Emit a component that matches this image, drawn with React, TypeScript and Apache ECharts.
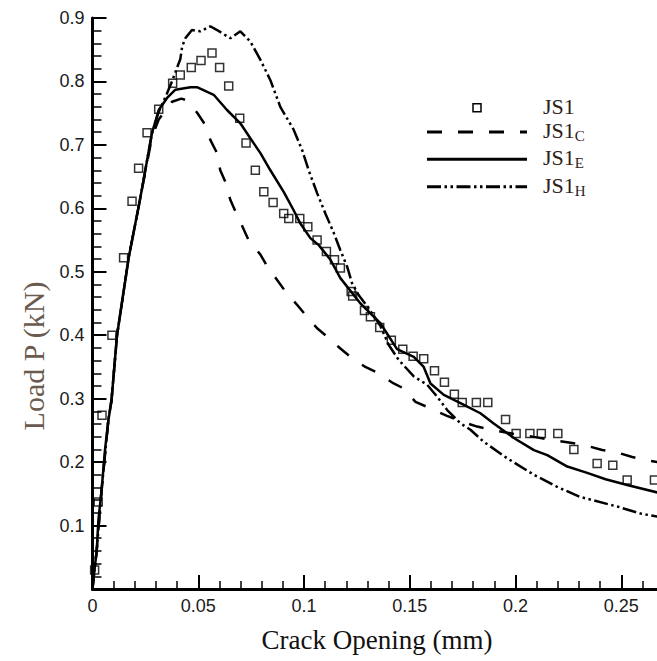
import React, { useEffect, useRef } from "react";
import * as echarts from "echarts";

// Experimental points JS1 [crack opening (mm), load (kN)]
const js1Points: [number, number][] = [
  [0.001, 0.03], [0.0027, 0.137], [0.0045, 0.274], [0.0092, 0.4], [0.0147, 0.522],
  [0.0187, 0.611], [0.0218, 0.663], [0.0258, 0.719], [0.0313, 0.756], [0.0379, 0.797],
  [0.0415, 0.81], [0.0467, 0.822], [0.0513, 0.833], [0.0565, 0.845], [0.0601, 0.822],
  [0.0644, 0.793], [0.0696, 0.742], [0.0726, 0.703], [0.077, 0.66], [0.081, 0.626],
  [0.0854, 0.609], [0.0904, 0.592], [0.0928, 0.584], [0.098, 0.584], [0.1018, 0.571],
  [0.1062, 0.55], [0.1106, 0.532], [0.1144, 0.519], [0.1172, 0.506], [0.1223, 0.469],
  [0.123, 0.462], [0.1286, 0.439], [0.1314, 0.429], [0.1358, 0.412], [0.1413, 0.392],
  [0.1467, 0.378], [0.1516, 0.367], [0.1566, 0.363], [0.1617, 0.344], [0.1664, 0.326],
  [0.1711, 0.307], [0.1748, 0.294], [0.1815, 0.294], [0.1869, 0.294], [0.1953, 0.267],
  [0.2003, 0.245], [0.2068, 0.245], [0.2122, 0.245], [0.22, 0.245], [0.2276, 0.22],
  [0.2386, 0.198], [0.246, 0.195], [0.2528, 0.172], [0.2657, 0.172],
];

// JS1_C (dashed)
const js1cPoints: [number, number][] = [
  [0, 0], [0.0004, 0.014], [0.002, 0.061], [0.0043, 0.156], [0.0075, 0.266], [0.009, 0.298],
  [0.0116, 0.4], [0.0171, 0.522], [0.0223, 0.611], [0.0281, 0.712], [0.0313, 0.74],
  [0.0376, 0.768], [0.042, 0.773], [0.0447, 0.77], [0.0494, 0.751], [0.0534, 0.731],
  [0.0557, 0.708], [0.0589, 0.687], [0.0604, 0.66], [0.0628, 0.642], [0.0652, 0.613],
  [0.0676, 0.595], [0.0712, 0.569], [0.0738, 0.55], [0.0794, 0.527], [0.0822, 0.511],
  [0.0873, 0.487], [0.0912, 0.469], [0.0967, 0.448], [0.1007, 0.432], [0.1062, 0.411],
  [0.1109, 0.398], [0.1172, 0.379], [0.1219, 0.366], [0.129, 0.35], [0.1346, 0.341],
  [0.1424, 0.324], [0.1472, 0.316], [0.1527, 0.295], [0.1582, 0.287], [0.1676, 0.273],
  [0.1771, 0.261], [0.1819, 0.256], [0.19, 0.25], [0.2, 0.244], [0.21, 0.239],
  [0.2268, 0.23], [0.2323, 0.227], [0.241, 0.219], [0.2473, 0.216], [0.2552, 0.208],
  [0.2615, 0.203], [0.2672, 0.2],
];

// JS1_E (solid)
const js1ePoints: [number, number][] = [
  [0, 0], [0.0004, 0.014], [0.002, 0.061], [0.0028, 0.109], [0.0043, 0.156], [0.0059, 0.219],
  [0.0075, 0.266], [0.009, 0.298], [0.0116, 0.4], [0.0171, 0.522], [0.0223, 0.611],
  [0.0281, 0.718], [0.0313, 0.755], [0.0355, 0.775], [0.0392, 0.787], [0.0463, 0.791],
  [0.0494, 0.791], [0.0573, 0.779], [0.0636, 0.755], [0.0699, 0.734], [0.0747, 0.71],
  [0.0794, 0.687], [0.0841, 0.66], [0.0904, 0.626], [0.0951, 0.597], [0.0983, 0.576],
  [0.103, 0.553], [0.107, 0.542], [0.1125, 0.519], [0.1172, 0.49], [0.1267, 0.45],
  [0.1361, 0.419], [0.144, 0.378], [0.1519, 0.366], [0.1566, 0.35], [0.1598, 0.324],
  [0.1661, 0.306], [0.174, 0.293], [0.1834, 0.277], [0.1897, 0.261], [0.1992, 0.238],
  [0.2087, 0.219], [0.215, 0.211], [0.2245, 0.193], [0.2339, 0.183], [0.2426, 0.173],
  [0.2528, 0.164], [0.2672, 0.152],
];

// JS1_H (dash-dot-dot)
const js1hPoints: [number, number][] = [
  [0, 0], [0.0004, 0.014], [0.002, 0.061], [0.0043, 0.156], [0.0075, 0.266], [0.009, 0.298],
  [0.0116, 0.4], [0.0171, 0.522], [0.0223, 0.611], [0.0281, 0.718], [0.0313, 0.752],
  [0.0352, 0.781], [0.0376, 0.8], [0.04, 0.822], [0.0415, 0.835], [0.0424, 0.855],
  [0.0439, 0.868], [0.047, 0.881], [0.051, 0.879], [0.0557, 0.887], [0.0589, 0.881],
  [0.0652, 0.868], [0.0699, 0.879], [0.0746, 0.863], [0.0794, 0.834], [0.0841, 0.802],
  [0.0888, 0.76], [0.0951, 0.724], [0.0991, 0.692], [0.1022, 0.66], [0.1062, 0.624],
  [0.1101, 0.592], [0.1141, 0.561], [0.1172, 0.534], [0.1204, 0.508], [0.1227, 0.482],
  [0.1259, 0.463], [0.13, 0.445], [0.1361, 0.415], [0.14, 0.385], [0.1448, 0.361],
  [0.1519, 0.335], [0.1582, 0.322], [0.163, 0.303], [0.1677, 0.282], [0.174, 0.261],
  [0.1787, 0.251], [0.185, 0.232], [0.1961, 0.206], [0.2087, 0.18], [0.2197, 0.161],
  [0.2307, 0.145], [0.2481, 0.13], [0.2591, 0.119], [0.2672, 0.114],
];

const seriesNames = ["JS1", "JS1_C", "JS1_E", "JS1_H"];
const xAxisTitle = "Crack Opening (mm)";
const yAxisTitle = "Load P (kN)";
const X_MIN = 0;
const X_MAX = 0.3;
const X_INTERVAL = 0.05;
const Y_MIN = 0;
const Y_MAX = 0.9;
const Y_INTERVAL = 0.1;

const SERIF = "'Liberation Serif', 'Times New Roman', serif";
const SANS = "'Liberation Sans', Arial, sans-serif";
const LEGEND_TEXT = "#2e2218";

const DASH_C = [15, 16];
const DASH_H = [14, 3.5, 2.5, 3.5, 2.5, 3.5];

// The chart canvas is wider than the visible window; the plot is cropped at the right edge
const VIEW_W = 657;
const VIEW_H = 661;
const CANVAS_W = 727;

function legendLabel(name: string): string {
  const parts = name.split("_");
  return parts.length > 1 ? `{m|${parts[0]}}{s|${parts[1]}}` : `{m|${parts[0]}}`;
}

export default function App() {
  const ref = useRef<HTMLDivElement>(null);

  useEffect(() => {
    if (!ref.current) return;
    const chart = echarts.init(ref.current, null, { renderer: "svg" });

    const rich = {
      m: { fontFamily: SERIF, fontSize: 22, lineHeight: 26, fill: LEGEND_TEXT },
      s: { fontFamily: SERIF, fontSize: 15, lineHeight: 10, verticalAlign: "bottom", fill: LEGEND_TEXT },
    };

    const rowsY = [107.7, 132, 159.3, 186.7];
    const legendGraphics: any[] = [];
    legendGraphics.push({
      type: "rect",
      shape: { x: 473, y: rowsY[0] - 4, width: 8, height: 8 },
      style: { fill: "none", stroke: "#000", lineWidth: 1.5 },
    });
    legendGraphics.push({
      type: "line",
      shape: { x1: 427, y1: rowsY[1], x2: 527, y2: rowsY[1] },
      style: { stroke: "#000", lineWidth: 3, lineDash: DASH_C },
    });
    legendGraphics.push({
      type: "line",
      shape: { x1: 427, y1: rowsY[2], x2: 527, y2: rowsY[2] },
      style: { stroke: "#000", lineWidth: 3 },
    });
    legendGraphics.push({
      type: "line",
      shape: { x1: 427, y1: rowsY[3], x2: 527, y2: rowsY[3] },
      style: { stroke: "#000", lineWidth: 3, lineDash: DASH_H },
    });
    seriesNames.forEach((n, i) => {
      legendGraphics.push({
        type: "text",
        x: 543,
        y: rowsY[i] - 1.5,
        style: {
          text: legendLabel(n),
          rich,
          align: "left",
          verticalAlign: "middle",
          fill: LEGEND_TEXT,
        },
      });
    });

    const option: any = {
      animation: false,
      backgroundColor: "#fff",
      grid: { left: 92.5, right: 0, top: 18, bottom: 72, containLabel: false },
      xAxis: {
        type: "value",
        min: X_MIN,
        max: X_MAX,
        interval: X_INTERVAL,
        axisLine: { onZero: false, lineStyle: { color: "#000", width: 3 } },
        axisTick: { inside: true, length: 14, lineStyle: { color: "#000", width: 2 } },
        minorTick: { show: true, splitNumber: 5, length: 8, lineStyle: { color: "#000", width: 1.5 } },
        splitLine: { show: false },
        axisLabel: {
          fontFamily: SANS,
          fontSize: 18,
          color: "#1a1a1a",
          margin: 8,
          showMaxLabel: false,
        },
      },
      yAxis: {
        type: "value",
        min: Y_MIN,
        max: Y_MAX,
        interval: Y_INTERVAL,
        axisLine: { onZero: false, lineStyle: { color: "#000", width: 3 } },
        axisTick: { inside: true, length: 14, lineStyle: { color: "#000", width: 2 } },
        minorTick: { show: true, splitNumber: 5, length: 9, lineStyle: { color: "#000", width: 1.5 } },
        splitLine: { show: false },
        axisLabel: {
          fontFamily: SANS,
          fontSize: 18,
          color: "#1a1a1a",
          margin: 8,
          showMinLabel: false,
        },
      },
      graphic: [
        {
          type: "text",
          x: 377,
          y: 640,
          style: {
            text: xAxisTitle,
            fontFamily: SERIF,
            fontSize: 27,
            fill: "#111",
            align: "center",
            verticalAlign: "middle",
          },
        },
        {
          type: "text",
          x: 33,
          y: 356,
          rotation: Math.PI / 2,
          style: {
            text: yAxisTitle,
            fontFamily: SERIF,
            fontSize: 30,
            fill: "#6b5a4e",
            align: "center",
            verticalAlign: "middle",
          },
        },
        ...legendGraphics,
      ],
      series: [
        {
          name: "JS1_C",
          type: "line",
          data: js1cPoints,
          symbol: "none",
          lineStyle: { color: "#000", width: 2.5, type: DASH_C },
        },
        {
          name: "JS1_E",
          type: "line",
          data: js1ePoints,
          symbol: "none",
          lineStyle: { color: "#000", width: 2.5 },
        },
        {
          name: "JS1_H",
          type: "line",
          data: js1hPoints,
          symbol: "none",
          lineStyle: { color: "#000", width: 2.5, type: DASH_H },
        },
        {
          name: "JS1",
          type: "scatter",
          data: js1Points,
          symbol: "rect",
          symbolSize: 8,
          itemStyle: { color: "rgba(255,255,255,0)", borderColor: "#000", borderWidth: 1.5 },
          z: 5,
        },
      ],
    };

    chart.setOption(option);
    return () => chart.dispose();
  }, []);

  return (
    <div
      style={{
        position: "absolute",
        left: 0,
        top: 0,
        width: VIEW_W,
        height: VIEW_H,
        overflow: "hidden",
        background: "#fff",
      }}
    >
      <div ref={ref} style={{ width: CANVAS_W, height: VIEW_H }} />
    </div>
  );
}
